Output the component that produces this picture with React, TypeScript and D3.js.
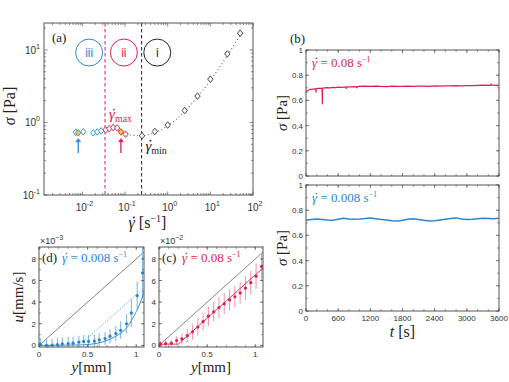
import React from "react";
import * as d3 from "d3";

// ---------- DATA ----------
// Panel (a): flow curve
const rateBlue = [0.007, 0.008, 0.0105, 0.018, 0.0223, 0.0276];
const stressBlue = [0.735, 0.72, 0.745, 0.72, 0.74, 0.765];
const rateRed = [0.035, 0.0426, 0.0528, 0.0656, 0.08, 0.103];
const stressRed = [0.79, 0.82, 0.85, 0.84, 0.74, 0.69];
const rateBlack = [0.25, 0.5, 1, 2.5, 5, 10, 25, 50];
const stressBlack = [0.656, 0.75, 0.92, 1.46, 2.31, 3.95, 8.8, 17];
const fitRate = [0.11, 0.16, 0.25, 0.5, 1, 2.5, 5, 10, 25, 55];
const fitStress = [0.68, 0.665, 0.655, 0.73, 0.9, 1.42, 2.25, 3.8, 8.4, 17.5];
const rateMaxLine = 0.034;
const rateMinLine = 0.245;
const yellowRates = [0.008, 0.08];

// Panel (b): stress vs time
const timeTop = [0, 20, 50, 90, 130, 170, 183, 186, 190, 220, 260, 300, 305, 309, 340, 400, 450, 500, 550, 600, 650, 700, 745, 750, 755, 800, 850, 900, 945, 950, 955, 1000, 1100, 1200, 1300, 1400, 1500, 1600, 1700, 1800, 1900, 2000, 2100, 2200, 2300, 2400, 2500, 2600, 2700, 2800, 2900, 3000, 3100, 3200, 3300, 3400, 3440, 3450, 3460, 3500, 3600];
const stressTop = [0.66, 0.675, 0.683, 0.688, 0.69, 0.692, 0.692, 0.662, 0.693, 0.695, 0.696, 0.697, 0.57, 0.698, 0.699, 0.701, 0.7, 0.703, 0.702, 0.705, 0.704, 0.706, 0.705, 0.692, 0.706, 0.708, 0.707, 0.709, 0.708, 0.697, 0.709, 0.711, 0.713, 0.712, 0.714, 0.711, 0.71, 0.713, 0.712, 0.711, 0.714, 0.712, 0.713, 0.714, 0.712, 0.715, 0.714, 0.716, 0.715, 0.717, 0.716, 0.718, 0.717, 0.719, 0.721, 0.72, 0.72, 0.728, 0.721, 0.722, 0.719];
const timeBottom = [0, 100, 200, 300, 400, 500, 600, 700, 800, 900, 1000, 1100, 1200, 1300, 1400, 1500, 1600, 1700, 1800, 1900, 2000, 2100, 2200, 2300, 2400, 2500, 2600, 2700, 2800, 2900, 3000, 3100, 3200, 3300, 3400, 3500, 3600];
const stressBottom = [0.72, 0.726, 0.731, 0.727, 0.723, 0.721, 0.729, 0.736, 0.731, 0.728, 0.73, 0.734, 0.739, 0.733, 0.727, 0.723, 0.716, 0.714, 0.721, 0.729, 0.733, 0.726, 0.72, 0.715, 0.717, 0.723, 0.729, 0.735, 0.739, 0.731, 0.727, 0.729, 0.733, 0.737, 0.735, 0.732, 0.737];
const timeTicks = [0, 600, 1200, 1800, 2400, 3000, 3600];
const stressTicks = [0, 0.2, 0.4, 0.6, 0.8, 1];

// Panel (d): velocity profile at 0.008 s^-1 (x1e-3 mm/s)
const posD = [0.014, 0.077, 0.135, 0.19, 0.24, 0.3, 0.35, 0.41, 0.46, 0.51, 0.57, 0.62, 0.68, 0.73, 0.79, 0.84, 0.9, 0.95, 1.01, 1.065];
const velD = [0.1, 0.0, 0.02, 0.07, 0.13, 0.17, 0.2, 0.3, 0.37, 0.37, 0.4, 0.5, 0.63, 0.85, 1.1, 1.4, 2.0, 3.0, 4.6, 6.7];
const errD = [0.55, 0.6, 0.6, 0.6, 0.6, 0.6, 0.6, 0.6, 0.6, 0.6, 0.6, 0.6, 0.6, 0.65, 0.7, 0.8, 0.9, 1.3, 1.3, 2.4];
const fitDx = [0, 0.45, 0.6, 0.7, 0.8, 0.9, 0.97, 1.03, 1.08];
const fitDy = [0, 0.05, 0.2, 0.45, 0.9, 1.6, 2.6, 3.7, 4.9];
const dotDx = [0.45, 1.08];
const dotDy = [0.3, 5.3];

// Panel (c): velocity profile at 0.08 s^-1 (x1e-2 mm/s)
const posC = [0.014, 0.069, 0.128, 0.183, 0.238, 0.293, 0.348, 0.403, 0.458, 0.513, 0.568, 0.623, 0.678, 0.733, 0.788, 0.843, 0.898, 0.953, 1.008, 1.065];
const velC = [0.15, 0.17, 0.2, 0.45, 0.6, 0.9, 1.25, 1.7, 2.2, 2.7, 3.1, 3.5, 3.85, 4.2, 4.5, 4.85, 5.3, 5.8, 6.4, 7.3];
const errC = [0.3, 0.3, 0.3, 0.4, 0.5, 0.6, 0.7, 0.8, 0.8, 0.9, 0.9, 1.0, 1.0, 1.0, 1.0, 1.0, 1.1, 1.1, 1.2, 1.3];
const fitCx = [0, 0.2, 1.08];
const fitCy = [0.1, 0.12, 7.16];
const wallX = [0, 1.08];
const wallY = [0, 8.64];
const velTicks = [0, 2, 4, 6, 8];
const posTicks = [0, 0.5, 1];

// ---------- STYLE ----------
const SANS = "'Liberation Sans', Arial, sans-serif";
const SERIF = "'Liberation Serif', 'Times New Roman', serif";
const BLUE = "#2a86d0";
const BLUE_L = "#80bdea";
const RED = "#dc1f50";
const RED_L = "#f29ab3";
const FRAME = "#555";
const TXT = "#333";

type Sc = (v: number) => number;

function Frame({ x0, x1, y0, y1 }: { x0: number; x1: number; y0: number; y1: number }) {
  return <rect x={x0} y={y0} width={x1 - x0} height={y1 - y0} fill="none" stroke={FRAME} strokeWidth={1} />;
}

function XTicks({ vals, sx, y0, y1, len }: { vals: number[]; sx: Sc; y0: number; y1: number; len: number }) {
  return (
    <g stroke={FRAME} strokeWidth={0.7}>
      {vals.map((v, i) => (
        <g key={i}>
          <line x1={sx(v)} x2={sx(v)} y1={y1} y2={y1 - len} />
          <line x1={sx(v)} x2={sx(v)} y1={y0} y2={y0 + len} />
        </g>
      ))}
    </g>
  );
}
function YTicks({ vals, sy, x0, x1, len }: { vals: number[]; sy: Sc; x0: number; x1: number; len: number }) {
  return (
    <g stroke={FRAME} strokeWidth={0.7}>
      {vals.map((v, i) => (
        <g key={i}>
          <line y1={sy(v)} y2={sy(v)} x1={x0} x2={x0 + len} />
          <line y1={sy(v)} y2={sy(v)} x1={x1} x2={x1 - len} />
        </g>
      ))}
    </g>
  );
}

function Diamond({ x, y, stroke, fill }: { x: number; y: number; stroke: string; fill: string }) {
  const r = 3.3;
  return <path d={`M${x},${y - r}L${x + r * 0.8},${y}L${x},${y + r}L${x - r * 0.8},${y}Z`} fill={fill} stroke={stroke} strokeWidth={0.9} />;
}

function Pow({ x, y, exp, anchor }: { x: number; y: number; exp: number; anchor: string }) {
  return (
    <text x={x} y={y} fontFamily={SANS} fontSize={10} fill={TXT} textAnchor={anchor}>
      10<tspan fontSize={7} dy={-5}>{exp}</tspan>
    </text>
  );
}

// gamma with an overdot, followed by optional rest text
function GammaDot({ x, y, size, color, children }: { x: number; y: number; size: number; color: string; children?: React.ReactNode }) {
  return (
    <g>
      <text x={x} y={y} fontFamily={SERIF} fontSize={size} fill={color}>
        <tspan fontStyle="italic">γ</tspan>
        {children}
      </text>
      <circle cx={x + size * 0.34} cy={y - size * 0.66} r={size * 0.06} fill={color} />
    </g>
  );
}

export default function App() {
  // ---- Panel (a) ----
  const ax0 = 44, ax1 = 253, ay0 = 23, ay1 = 195;
  const xA = d3.scaleLog().domain([0.00126, 100]).range([ax0, ax1]);
  const yA = d3.scaleLog().domain([0.1, 23.5]).range([ay1, ay0]);
  const xMajA = [0.01, 0.1, 1, 10, 100];
  const xMinA: number[] = [];
  [-3, -2, -1, 0, 1].forEach((d) => {
    for (let k = 2; k <= 9; k++) {
      const v = k * Math.pow(10, d);
      if (v > 0.00126 && v < 100) xMinA.push(v);
    }
  });
  const yMajA = [0.1, 1, 10];
  const yMinA: number[] = [];
  [-1, 0, 1].forEach((d) => {
    for (let k = 2; k <= 9; k++) {
      const v = k * Math.pow(10, d);
      if (v < 23.5) yMinA.push(v);
    }
  });
  const fitLine = d3
    .line<number>()
    .x((_, i) => xA(fitRate[i]))
    .y((d) => yA(d))
    .curve(d3.curveMonotoneX)(fitStress) as string;

  // ---- Panel (b) ----
  const bx0 = 306, bx1 = 499;
  const bt0 = 50, bt1 = 176, bb0 = 185, bb1 = 311;
  const xB = d3.scaleLinear().domain([0, 3600]).range([bx0, bx1]);
  const yBt = d3.scaleLinear().domain([0, 1]).range([bt1, bt0]);
  const yBb = d3.scaleLinear().domain([0, 1]).range([bb1, bb0]);
  const minorT = d3.range(0, 3601, 200);
  const minorS = d3.range(0, 1.001, 0.1);
  const lineTop = d3.line<number>().x((_, i) => xB(timeTop[i])).y((d) => yBt(d))(stressTop) as string;
  const lineBot = d3.line<number>().x((_, i) => xB(timeBottom[i])).y((d) => yBb(d))(stressBottom) as string;

  // ---- Panels (d), (c) ----
  const py0 = 247, py1 = 347;
  const dx0 = 39, dx1 = 144, cx0 = 159, cx1 = 263;
  const xD = d3.scaleLinear().domain([0, 1.08]).range([dx0, dx1]);
  const xC = d3.scaleLinear().domain([0, 1.08]).range([cx0, cx1]);
  const yP = d3.scaleLinear().domain([-0.15, 9.1]).range([py1, py0]);
  const minorPos = d3.range(0, 1.081, 0.1);
  const minorVel = d3.range(0, 9.01, 1);
  const mk = (xs: number[], sx: Sc, curve: any = d3.curveLinear) =>
    (ys: number[]) => d3.line<number>().x((_, i) => sx(xs[i])).y((d) => yP(d)).curve(curve)(ys) as string;

  const profile = (
    sx: Sc,
    x0: number,
    x1: number,
    pos: number[],
    vel: number[],
    err: number[],
    col: string,
    colL: string,
    clipId: string
  ) => (
    <g>
      <clipPath id={clipId}>
        <rect x={x0} y={py0} width={x1 - x0} height={py1 - py0} />
      </clipPath>
      <g clipPath={`url(#${clipId})`}>
        <path d={mk(wallX, sx)(wallY)} stroke="#666" strokeWidth={0.8} fill="none" />
        {pos.map((p, i) => (
          <line key={i} x1={sx(p)} x2={sx(p)} y1={yP(vel[i] - err[i])} y2={yP(vel[i] + err[i])} stroke={colL} strokeWidth={1.1} />
        ))}
        {pos.map((p, i) => (
          <circle key={"c" + i} cx={sx(p)} cy={yP(vel[i])} r={1.6} fill={col} />
        ))}
      </g>
      <Frame x0={x0} x1={x1} y0={py0} y1={py1} />
      <XTicks vals={minorPos} sx={sx} y0={py0} y1={py1} len={1.8} />
      <XTicks vals={posTicks} sx={sx} y0={py0} y1={py1} len={3} />
      <YTicks vals={minorVel} sy={yP} x0={x0} x1={x1} len={1.8} />
      <YTicks vals={velTicks} sy={yP} x0={x0} x1={x1} len={3} />
      {posTicks.map((v, i) => (
        <text key={i} x={sx(v)} y={py1 + 10} fontFamily={SANS} fontSize={8} fill={TXT} textAnchor="middle">{v}</text>
      ))}
      {velTicks.map((v, i) => (
        <text key={i} x={x0 - 3} y={yP(v) + 3} fontFamily={SANS} fontSize={8} fill={TXT} textAnchor="end">{v}</text>
      ))}
      <text x={(x0 + x1) / 2} y={py1 + 25} fontFamily={SERIF} fontSize={15} fill="#222" textAnchor="middle">
        <tspan fontStyle="italic">y</tspan>[mm]
      </text>
    </g>
  );

  return (
    <svg width={509} height={382} style={{ position: "absolute", left: 0, top: 0, background: "#fff" }}>
      <rect x={0} y={0} width={509} height={382} fill="#fff" />

      {/* ===== Panel (a) ===== */}
      <g>
        <line x1={xA(rateMaxLine)} x2={xA(rateMaxLine)} y1={ay0} y2={ay1} stroke={RED} strokeWidth={1} strokeDasharray="3.5 2.5" />
        <line x1={xA(rateMinLine)} x2={xA(rateMinLine)} y1={ay0} y2={ay1} stroke="#222" strokeWidth={1} strokeDasharray="3.5 2.5" />
        <path d={fitLine} fill="none" stroke="#777" strokeWidth={1.2} strokeDasharray="0.1 3.5" strokeLinecap="round" />
        {rateBlack.map((r, i) => (
          <Diamond key={"k" + i} x={xA(r)} y={yA(stressBlack[i])} stroke="#333" fill="#fff" />
        ))}
        {rateBlue.map((r, i) => (
          <Diamond key={"b" + i} x={xA(r)} y={yA(stressBlue[i])} stroke={BLUE} fill={yellowRates.includes(r) ? "#f6d21c" : "#fff"} />
        ))}
        {rateRed.map((r, i) => (
          <Diamond key={"r" + i} x={xA(r)} y={yA(stressRed[i])} stroke={RED} fill={yellowRates.includes(r) ? "#f6d21c" : "#fff"} />
        ))}
        {/* arrows */}
        {[
          { r: yellowRates[0], c: BLUE },
          { r: yellowRates[1], c: RED },
        ].map((a, i) => (
          <g key={i} stroke={a.c} fill={a.c}>
            <line x1={xA(a.r)} x2={xA(a.r)} y1={yA(0.38)} y2={yA(0.56)} strokeWidth={1.3} />
            <path d={`M${xA(a.r) - 2.5},${yA(0.54)}L${xA(a.r)},${yA(0.6)}L${xA(a.r) + 2.5},${yA(0.54)}Z`} strokeWidth={0.5} />
          </g>
        ))}
        {/* circles */}
        {[
          { r: 0.0144, c: BLUE, t: "iii" },
          { r: 0.094, c: RED, t: "ii" },
          { r: 0.57, c: "#222", t: "i" },
        ].map((c, i) => (
          <g key={i}>
            <circle cx={xA(c.r)} cy={yA(9.2)} r={13.5} fill="none" stroke={c.c} strokeWidth={1} />
            <text x={xA(c.r)} y={yA(9.2) + 4.5} fontFamily={SANS} fontSize={12} fill={c.c} textAnchor="middle">{c.t}</text>
          </g>
        ))}
        <GammaDot x={xA(0.042)} y={yA(1.1)} size={15} color={RED}>
          <tspan fontSize={10} dy={3}>max</tspan>
        </GammaDot>
        <GammaDot x={xA(0.3)} y={yA(0.41)} size={15} color="#222">
          <tspan fontSize={10} dy={3}>min</tspan>
        </GammaDot>
        <text x={52} y={42} fontFamily={SERIF} fontSize={13} fill="#222">(a)</text>

        <Frame x0={ax0} x1={ax1} y0={ay0} y1={ay1} />
        <XTicks vals={xMinA} sx={xA} y0={ay0} y1={ay1} len={2} />
        <XTicks vals={xMajA} sx={xA} y0={ay0} y1={ay1} len={3.5} />
        <YTicks vals={yMinA} sy={yA} x0={ax0} x1={ax1} len={2} />
        <YTicks vals={yMajA} sy={yA} x0={ax0} x1={ax1} len={3.5} />
        {xMajA.map((v, i) => (
          <Pow key={i} x={xA(v) + 2} y={ay1 + 16} exp={Math.round(Math.log10(v))} anchor="middle" />
        ))}
        {yMajA.map((v, i) => (
          <Pow key={i} x={ax0 - 4} y={yA(v) + 4} exp={Math.round(Math.log10(v))} anchor="end" />
        ))}
        <GammaDot x={(ax0 + ax1) / 2 - 20} y={ay1 + 33} size={16} color="#222">
          <tspan> [s</tspan><tspan fontSize={10} dy={-6}>−1</tspan><tspan dy={6}>]</tspan>
        </GammaDot>
        <text transform={`translate(15,${(ay0 + ay1) / 2 - 3}) rotate(-90)`} fontFamily={SERIF} fontSize={16} fill="#222" textAnchor="middle">
          <tspan fontStyle="italic">σ</tspan> [Pa]
        </text>
      </g>

      {/* ===== Panel (b) ===== */}
      <g>
        <path d={lineTop} fill="none" stroke={RED} strokeWidth={1.2} />
        <path d={lineBot} fill="none" stroke={BLUE} strokeWidth={1.5} />
        {[
          { y0: bt0, y1: bt1, sy: yBt },
          { y0: bb0, y1: bb1, sy: yBb },
        ].map((p, k) => (
          <g key={k}>
            <Frame x0={bx0} x1={bx1} y0={p.y0} y1={p.y1} />
            <XTicks vals={minorT} sx={xB} y0={p.y0} y1={p.y1} len={1.8} />
            <XTicks vals={timeTicks} sx={xB} y0={p.y0} y1={p.y1} len={3} />
            <YTicks vals={minorS} sy={p.sy} x0={bx0} x1={bx1} len={1.8} />
            <YTicks vals={stressTicks} sy={p.sy} x0={bx0} x1={bx1} len={3} />
            {stressTicks.map((v, i) => (
              <text key={i} x={bx0 - 3} y={p.sy(v) + 3} fontFamily={SANS} fontSize={8} fill={TXT} textAnchor="end">{v}</text>
            ))}
            <text transform={`translate(287,${(p.y0 + p.y1) / 2}) rotate(-90)`} fontFamily={SERIF} fontSize={15} fill="#222" textAnchor="middle">
              <tspan fontStyle="italic">σ</tspan> [Pa]
            </text>
          </g>
        ))}
        {timeTicks.map((v, i) => (
          <text key={i} x={xB(v)} y={bb1 + 10} fontFamily={SANS} fontSize={8} fill={TXT} textAnchor="middle">{v}</text>
        ))}
        <text x={(bx0 + bx1) / 2} y={bb1 + 26} fontFamily={SERIF} fontSize={16} fill="#222" textAnchor="middle">
          <tspan fontStyle="italic">t</tspan> [s]
        </text>
        <text x={290} y={43} fontFamily={SERIF} fontSize={13} fill="#222">(b)</text>
        <GammaDot x={312} y={67} size={13} color={RED}>
          <tspan> = 0.08 s</tspan><tspan fontSize={8} dy={-5}>−1</tspan>
        </GammaDot>
        <GammaDot x={312} y={202} size={13} color={BLUE}>
          <tspan> = 0.008 s</tspan><tspan fontSize={8} dy={-5}>−1</tspan>
        </GammaDot>
      </g>

      {/* ===== Panel (d) ===== */}
      {profile(xD, dx0, dx1, posD, velD, errD, BLUE, BLUE_L, "clipD")}
      <g clipPath="url(#clipD)">
        <path d={mk(fitDx, xD, d3.curveMonotoneX)(fitDy)} fill="none" stroke={BLUE} strokeWidth={0.9} />
        <path d={mk(dotDx, xD)(dotDy)} fill="none" stroke={BLUE} strokeWidth={0.8} strokeDasharray="1 1.5" />
      </g>
      <text x={dx0 + 1} y={py0 - 3} fontFamily={SANS} fontSize={9} fill={TXT}>
        ×10<tspan fontSize={7} dy={-4}>−3</tspan>
      </text>
      <text x={dx0 + 3} y={py0 + 15} fontFamily={SERIF} fontSize={13} fill="#222">(d)</text>
      <GammaDot x={dx0 + 23} y={py0 + 15} size={13} color={BLUE}>
        <tspan> = 0.008 s</tspan><tspan fontSize={8} dy={-5}>−1</tspan>
      </GammaDot>
      <text transform={`translate(23,${(py0 + py1) / 2}) rotate(-90)`} fontFamily={SERIF} fontSize={15} fill="#222" textAnchor="middle">
        <tspan fontStyle="italic">u</tspan>[mm/s]
      </text>

      {/* ===== Panel (c) ===== */}
      {profile(xC, cx0, cx1, posC, velC, errC, RED, RED_L, "clipC")}
      <g clipPath="url(#clipC)">
        <path d={mk(fitCx, xC)(fitCy)} fill="none" stroke={RED} strokeWidth={0.9} />
      </g>
      <text x={cx0 + 1} y={py0 - 3} fontFamily={SANS} fontSize={9} fill={TXT}>
        ×10<tspan fontSize={7} dy={-4}>−2</tspan>
      </text>
      <text x={cx0 + 3} y={py0 + 15} fontFamily={SERIF} fontSize={13} fill="#222">(c)</text>
      <GammaDot x={cx0 + 23} y={py0 + 15} size={13} color={RED}>
        <tspan> = 0.08 s</tspan><tspan fontSize={8} dy={-5}>−1</tspan>
      </GammaDot>
    </svg>
  );
}
